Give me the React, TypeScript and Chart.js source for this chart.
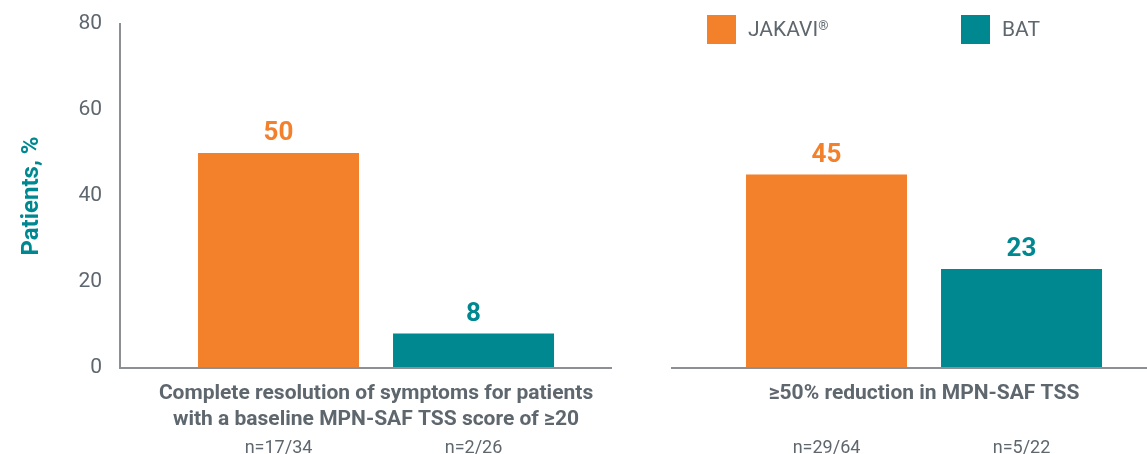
import React, { useEffect, useRef } from 'react';
import { Chart, registerables } from 'chart.js';

Chart.register(...registerables);

// ---- data ----
const categoryLabels: string[][] = [
  ['Complete resolution of symptoms for patients', 'with a baseline MPN-SAF TSS score of ≥20'],
  ['≥50% reduction in MPN-SAF TSS'],
];
const categoryIndex = [0, 1];
const seriesNames = ['JAKAVI®', 'BAT'];
const jakaviValues = [50, 45];
const batValues = [8, 23];
const jakaviN = ['n=17/34', 'n=29/64'];
const batN = ['n=2/26', 'n=5/22'];
const yTickValues = [0, 20, 40, 60, 80];

// ---- styles ----
const ORANGE = '#F3802B';
const TEAL = '#008891';
const GRAY_TEXT = '#5E666E';
const AXIS_GRAY = '#8C9095';
const FONT = 'Roboto, "Noto Sans", Arial, sans-serif';

const nLabels = [jakaviN, batN];

const overlayPlugin = {
  id: 'overlay',
  afterDraw(chart: any) {
    const { ctx, chartArea, scales } = chart;
    const xs = scales.x;
    // baseline with a gap between the two panels
    const mid = xs.getPixelForValue(0.5);
    ctx.save();
    ctx.strokeStyle = AXIS_GRAY;
    ctx.lineWidth = 2;
    ctx.beginPath();
    ctx.moveTo(chartArea.left, chartArea.bottom);
    ctx.lineTo(mid - 38, chartArea.bottom);
    ctx.moveTo(mid + 21, chartArea.bottom);
    ctx.lineTo(chartArea.right + 40, chartArea.bottom);
    ctx.stroke();

    chart.data.datasets.forEach((ds: any, di: number) => {
      const meta = chart.getDatasetMeta(di);
      meta.data.forEach((bar: any, i: number) => {
        // value labels
        ctx.fillStyle = ds.backgroundColor;
        ctx.font = `bold 26px ${FONT}`;
        ctx.textAlign = 'center';
        ctx.textBaseline = 'alphabetic';
        ctx.fillText(String(ds.data[i].y), bar.x, bar.y - 13);
        // n labels
        ctx.fillStyle = GRAY_TEXT;
        ctx.font = `18px ${FONT}`;
        ctx.textBaseline = 'middle';
        ctx.fillText(nLabels[di][i], bar.x, chartArea.bottom + 80);
      });
    });
    ctx.restore();
  },
};

export default function App() {
  const canvasRef = useRef<HTMLCanvasElement | null>(null);

  useEffect(() => {
    if (!canvasRef.current) return;
    const chart = new Chart(canvasRef.current, {
      type: 'bar',
      data: {
        datasets: [
          {
            label: seriesNames[0],
            data: categoryIndex.map((x, i) => ({ x, y: jakaviValues[i] })),
            backgroundColor: ORANGE,
            categoryPercentage: 0.7117,
            barPercentage: 0.8256,
          },
          {
            label: seriesNames[1],
            data: categoryIndex.map((x, i) => ({ x, y: batValues[i] })),
            backgroundColor: TEAL,
            categoryPercentage: 0.7117,
            barPercentage: 0.8256,
          },
        ],
      },
      options: {
        animation: false,
        responsive: true,
        maintainAspectRatio: false,
        layout: { padding: { top: 24, left: 0, right: 0, bottom: 0 } },
        plugins: {
          legend: { display: false },
          tooltip: { enabled: false },
        },
        scales: {
          x: {
            type: 'linear',
            offset: false,
            min: -0.4672,
            max: 1.4069,
            grid: { display: false, drawTicks: false },
            border: { display: false },
            ticks: {
              stepSize: 1,
              includeBounds: false,
              autoSkip: false,
              maxRotation: 0,
              minRotation: 0,
              padding: 13,
              color: GRAY_TEXT,
              font: { family: FONT, size: 21, weight: 'bold', lineHeight: 1.24 },
              callback: (v: any) => categoryLabels[v as number] ?? '',
            },
            afterFit: (s: any) => {
              s.height = 86;
              s.paddingLeft = 0;
              s.paddingRight = 0;
            },
          },
          y: {
            min: 0,
            max: 80,
            grid: { display: false, drawTicks: false },
            border: { display: true, color: AXIS_GRAY, width: 2 },
            afterBuildTicks: (s: any) => {
              s.ticks = yTickValues.map((value) => ({ value }));
            },
            ticks: {
              padding: 18,
              color: GRAY_TEXT,
              font: { family: FONT, size: 21 },
            },
            title: {
              display: true,
              text: 'Patients, %',
              color: TEAL,
              font: { family: FONT, size: 24, weight: 'bold' },
              padding: { top: 18, bottom: 0 },
            },
            afterFit: (s: any) => {
              s.width = 120;
              s.paddingTop = 0;
              s.paddingBottom = 0;
            },
          },
        },
      },
      plugins: [overlayPlugin],
    });
    return () => chart.destroy();
  }, []);

  const legendItem = (color: string, left: number, label: React.ReactNode) => (
    <div style={{ position: 'absolute', left, top: 15, height: 29, display: 'flex', alignItems: 'center' }}>
      <div style={{ width: 29, height: 29, background: color }} />
      <span style={{ marginLeft: 12, fontFamily: FONT, fontSize: 21, color: GRAY_TEXT, lineHeight: '29px' }}>
        {label}
      </span>
    </div>
  );

  return (
    <div style={{ position: 'fixed', left: 0, top: 0, width: 1147, height: 454, background: '#fff', overflow: 'hidden' }}>
      <canvas ref={canvasRef} />
      {legendItem(ORANGE, 707, <>JAKAVI<sup style={{ fontSize: 13, verticalAlign: 'top', lineHeight: '22px' }}>®</sup></>)}
      {legendItem(TEAL, 961, seriesNames[1])}
    </div>
  );
}
